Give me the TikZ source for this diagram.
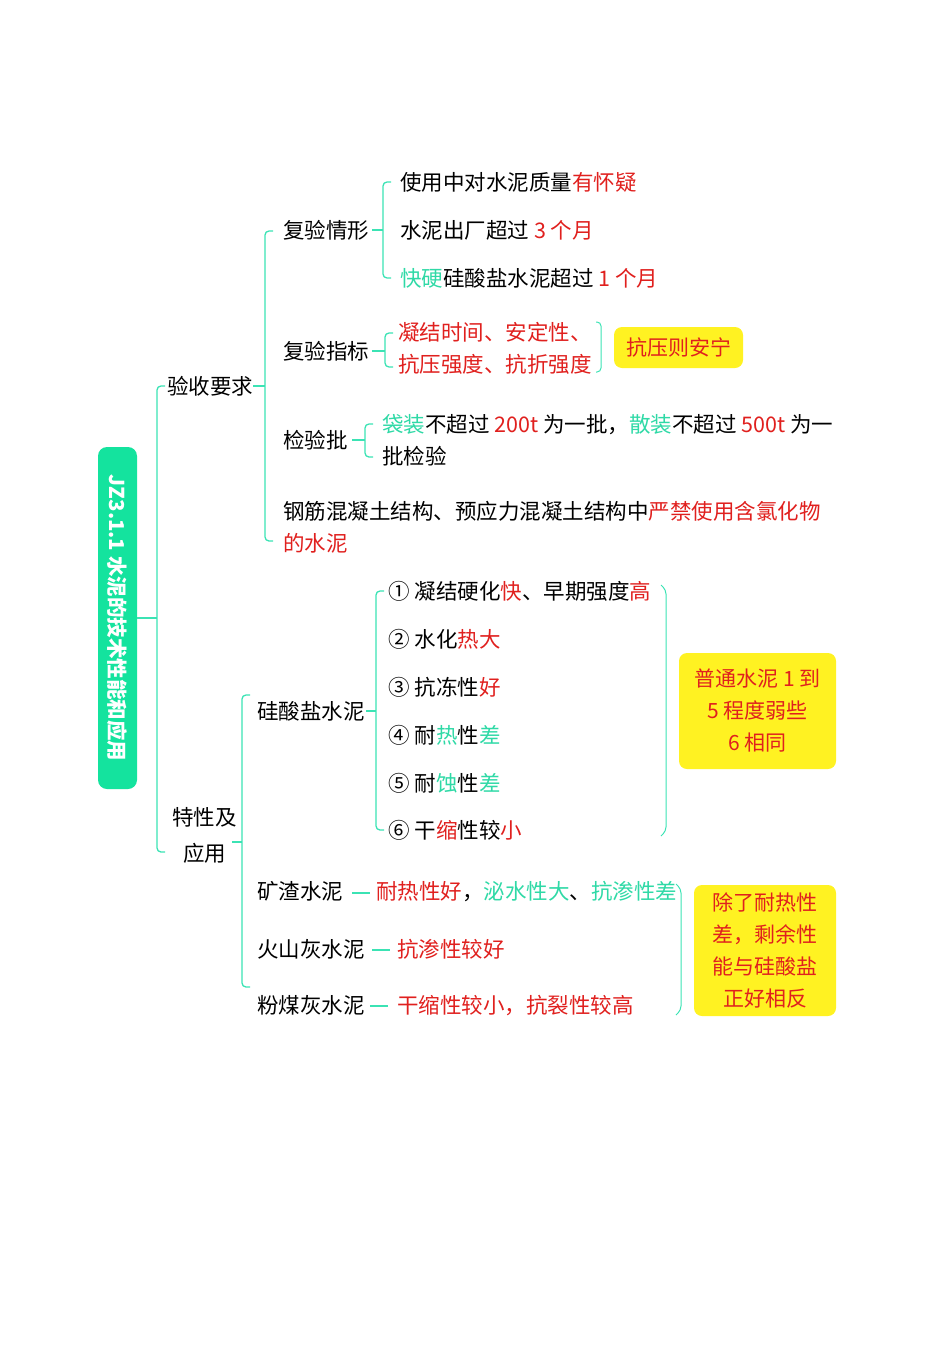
\documentclass[tikz,border=0pt]{standalone}
\usepackage{fontspec}
\setmainfont{Noto Sans CJK SC}
\definecolor{ln}{HTML}{3BE3B4}
\definecolor{rd}{HTML}{E0201E}
\definecolor{gn}{HTML}{2FD9A6}
\definecolor{yl}{HTML}{FFF222}
\definecolor{rt}{HTML}{14E39E}
\newcommand{\R}[1]{\textcolor{rd}{#1}}
\newcommand{\G}[1]{\textcolor{gn}{#1}}
\begin{document}
\begin{tikzpicture}[x=1pt,y=-1pt,
  t/.style={anchor=base west,inner sep=0pt,font=\fontsize{21.5}{26}\selectfont},
  br/.style={draw=ln,line width=1.3pt,rounded corners=4pt},
  yb/.style={fill=yl,rounded corners=8pt,draw=none,text=rd,align=center,font=\fontsize{21}{32}\selectfont}]
\useasboundingbox (0,0) rectangle (950,1365);
% root
\node[fill=rt,rounded corners=9pt,minimum width=39pt,minimum height=342pt,inner sep=0pt] (root) at (117.5,618) {};
\node[rotate=-90,text=white,font=\bfseries\fontsize{20.5}{24}\selectfont] (rt) at (117.5,618) {JZ3.1.1 水泥的技术性能和应用};
\draw[br] (root.east) -- (157,618);
\draw[br] (165,386) -- (157,386) -- (157,852) -- (165,852);
% 验收要求
\node[t] (ys) at (167,394) {验收要求};
\draw[br] (253,386) -- (265,386);
\draw[br] (273,231) -- (265,231) -- (265,541) -- (273,541);
\node[t] (fq) at (283,238) {复验情形};
\node[t] (fz) at (283,359) {复验指标};
\node[t] (jy) at (283,448) {检验批};
\node[t] (gj) at (283,519) {钢筋混凝土结构、预应力混凝土结构中\R{严禁使用含氯化物}};
\node[t] (gj2) at (283,551) {\R{的水泥}};
\draw[br] (372,230) -- (383,230);
\draw[br] (391,182) -- (383,182) -- (383,278) -- (391,278);
\node[t] (a1) at (400,190) {使用中对水泥质量\R{有怀疑}};
\node[t] (a2) at (400,238) {水泥出厂超过 \R{3 个月}};
\node[t] (a3) at (400,286) {\G{快硬}硅酸盐水泥超过 \R{1 个月}};
\draw[br] (372,351) -- (385,351);
\draw[br] (393,333) -- (385,333) -- (385,367) -- (393,367);
\node[t] (b1) at (398,340) {\R{凝结时间、安定性、}};
\node[t] (b2) at (398,372) {\R{抗压强度、抗折强度}};
\draw[br,line width=1pt] (596,322) -- (601,322) -- (601,372) -- (596,372);
\node[yb,minimum width=129pt,minimum height=41pt] (y1) at (678.5,347.5) {抗压则安宁};
\draw[br] (352,440) -- (365,440);
\draw[br] (373,424) -- (365,424) -- (365,457) -- (373,457);
\node[t] (c1) at (382,432) {\G{袋装}不超过 \R{200t} 为一批，\G{散装}不超过 \R{500t} 为一};
\node[t] (c2) at (382,464) {批检验};
% 特性及应用
\node[t] (tx) at (172,825) {特性及};
\node[t] (yy) at (183,861) {应用};
\draw[br] (232,842) -- (242,842);
\draw[br] (250,695) -- (242,695) -- (242,987) -- (250,987);
\node[t] (gs) at (257,719) {硅酸盐水泥};
\draw[br] (366,711) -- (376,711);
\draw[br] (384,591) -- (376,591) -- (376,830) -- (384,830);
\node[t] (d1) at (388,599) {① 凝结硬化\R{快}、早期强度\R{高}};
\node[t] (d2) at (388,647) {② 水化\R{热大}};
\node[t] (d3) at (388,695) {③ 抗冻性\R{好}};
\node[t] (d4) at (388,743) {④ 耐\G{热}性\G{差}};
\node[t] (d5) at (388,791) {⑤ 耐\G{蚀}性\G{差}};
\node[t] (d6) at (388,838) {⑥ 干\R{缩}性较\R{小}};
\draw[br,line width=1pt] (661,585) -- (666,590) -- (666,831) -- (661,836);
\node[yb,minimum width=157pt,minimum height=116pt] (y2) at (757.5,711) {普通水泥 1 到\\5 程度弱些\\6 相同};
\node[t] (k1) at (257,899) {矿渣水泥};
\draw[br] (352,893) -- (370,893);
\node[t] (k1t) at (376,899) {\R{耐热性好}，\G{泌水性大}、\G{抗渗性差}};
\node[t] (k2) at (257,957) {火山灰水泥};
\draw[br] (372,950) -- (390,950);
\node[t] (k2t) at (397,957) {\R{抗渗性较好}};
\node[t] (k3) at (257,1013) {粉煤灰水泥};
\draw[br] (370,1006) -- (388,1006);
\node[t] (k3t) at (397,1013) {\R{干缩性较小，抗裂性较高}};
\draw[br,line width=1pt] (676,884) -- (681,889) -- (681,1010) -- (676,1015);
\node[yb,minimum width=142pt,minimum height=131pt] (y3) at (765,950.5) {除了耐热性\\差，剩余性\\能与硅酸盐\\正好相反};
\end{tikzpicture}
\end{document}
